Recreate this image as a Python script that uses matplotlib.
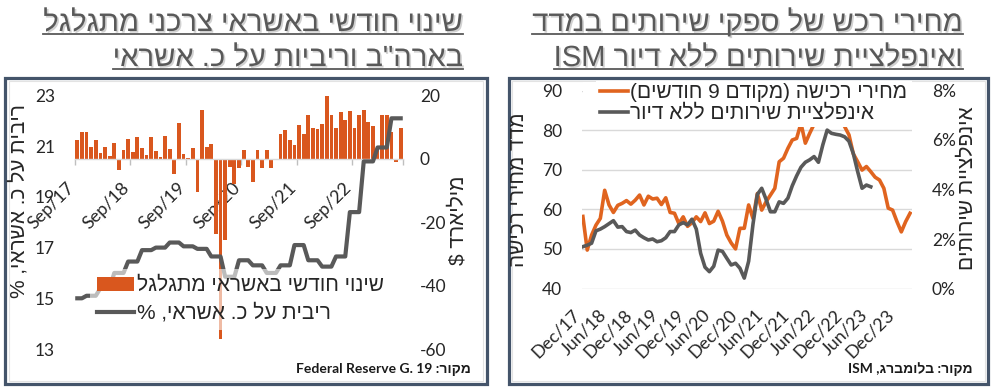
import re
import matplotlib
matplotlib.use('Agg')
import matplotlib.pyplot as plt
from matplotlib.patches import Rectangle, Patch
from matplotlib.lines import Line2D
import matplotlib.patheffects as pe

# ---------------- data: left chart (monthly, Sep 2017 .. Jul 2023) ----------------
left_tick_labels = ['Sep/17', 'Sep/18', 'Sep/19', 'Sep/20', 'Sep/21', 'Sep/22']
left_tick_pos = [0, 12, 24, 36, 48, 60]

revolving_change = [5.8, 8.6, 8.6, 3.9, 5.8, 2.0, 3.9, 1.0, 4.9, -3.5,
                    2.8, 6.3, 2.3, 6.9, 3.4, 1.3, 6.9, 2.6, 0.7, 7.3,
                    3.2, -4.7, 11.4, 1.6, 0.4, 3.4, -10.4, 15.5, 3.9, 4.7,
                    -23.7, -57.0, -25.6, -2.5, -8.0, -3.0, 2.8, -2.6, -7.2, 2.8,
                    -3.0, 2.8, -3.0, -0.5, 7.9, 9.2, 5.8, 4.5, 10.7, 7.7,
                    13.7, 9.7, 9.4, 11.1, 19.8, 13.7, 9.7, 14.7, 12.4, 15.1,
                    9.7, 14.0, 15.5, 11.6, 10.4, 3.0, 13.7, 13.7, 8.4, -1.0,
                    9.7]

card_rate = [15.0, 15.0,
             15.1, 15.1, 15.1, 15.4, 15.4, 15.4, 16.0, 16.0, 16.0,
             16.45, 16.45, 16.45, 16.9, 16.9, 16.9, 17.0, 17.0, 17.0,
             17.2, 17.2, 17.2, 17.05, 17.05, 17.05, 16.95, 16.95, 16.95,
             16.65, 16.65, 16.65, 15.85, 15.85, 15.85, 16.5, 16.5, 16.5,
             16.3, 16.3, 16.3, 16.0, 16.0, 16.0, 16.3, 16.3, 16.3,
             17.1, 17.1, 17.1, 16.5, 16.5, 16.5, 16.25, 16.25, 16.25,
             16.65, 16.65, 16.65, 18.4, 18.4, 18.4, 20.4, 20.4, 20.4,
             20.95, 20.95, 20.95, 22.1, 22.1, 22.1]

# ---------------- data: right chart (monthly, Dec 2017 .. Mar 2024) ----------------
right_tick_labels = ['Dec/17', 'Jun/18', 'Dec/18', 'Jun/19', 'Dec/19', 'Jun/20', 'Dec/20',
                     'Jun/21', 'Dec/21', 'Jun/22', 'Dec/22', 'Jun/23', 'Dec/23']
right_tick_pos = [0, 6, 12, 18, 24, 30, 36, 42, 48, 54, 60, 66, 72]

ism_prices_lead9 = [58.2, 49.7, 53.5, 56.0, 57.7, 64.8, 61.1, 59.2, 61.0, 61.5,
                    62.2, 61.3, 62.3, 63.6, 61.1, 63.3, 62.6, 62.8, 61.2, 62.9,
                    59.2, 59.0, 56.4, 58.1, 55.7, 56.6, 58.1, 56.9, 59.1, 56.4,
                    57.0, 59.5, 57.0, 53.5, 51.5, 50.0, 55.2, 55.2, 61.1, 57.7,
                    64.0, 59.8, 61.9, 63.6, 65.3, 72.0, 72.9, 75.4, 77.5, 77.9,
                    81.7, 76.7, 79.2, 81.5, 83.0, 83.0, 83.3, 83.4, 83.0, 83.4,
                    80.9, 78.8, 74.0, 72.0, 69.9, 70.8, 69.5, 68.1, 67.4, 65.3,
                    60.3, 59.8, 56.9, 54.3, 56.9, 59.0]

services_ex_housing = [1.69, 1.75, 1.83, 2.33, 2.40, 2.50, 2.62, 2.74, 2.48, 2.50,
                       2.30, 2.26, 2.36, 2.16, 2.05, 1.96, 2.00, 1.89, 1.93, 2.05,
                       2.30, 2.30, 2.57, 2.66, 2.57, 2.80, 2.40, 1.42, 0.86, 0.68,
                       0.90, 1.55, 1.50, 1.22, 0.95, 1.02, 0.82, 0.42, 1.10, 2.60,
                       3.80, 4.05, 3.60, 3.10, 3.10, 3.50, 3.44, 3.65, 4.15, 4.55,
                       4.90, 5.10, 5.20, 5.33, 5.10, 5.80, 6.40, 6.27, 6.23, 6.20,
                       6.13, 5.95, 5.45, 4.72, 4.05, 4.18, 4.11]

left_yticks = [13, 15, 17, 19, 21, 23]
bar_yticks = [-60, -40, -20, 0, 20]
right_yticks = [40, 50, 60, 70, 80, 90]
pct_yticks = [0, 2, 4, 6, 8]

# ---------------- texts (logical order) ----------------
title_left = ['שינוי חודשי באשראי צרכני מתגלגל', 'בארה"ב וריביות על כ. אשראי']
title_right = ['מחירי רכש של ספקי שירותים במדד', 'ISM ואינפלציית שירותים ללא דיור']
leg_left = ['שינוי חודשי באשראי מתגלגל', 'ריבית על כ. אשראי, %']
leg_right = ['מחירי רכישה (מקודם 9 חודשים)', 'אינפלציית שירותים ללא דיור']
ylab_left_l = 'ריבית על כ. אשראי, %'
ylab_left_r = 'מיליארד $'
ylab_right_l = 'מדד מחירי רכישה'
ylab_right_r = 'אינפלציית שירותים'
src_left = 'מקור: Federal Reserve G. 19'
src_right = 'מקור: בלומברג, ISM'

# ---------------- helpers ----------------
MIRROR = {'(': ')', ')': '('}
LTR_RE = re.compile(r"[A-Za-z0-9](?:[A-Za-z0-9 ./]*[A-Za-z0-9])?")


def vis(s, base='rtl'):
    """Very small bidi: return visual order for matplotlib (LTR renderer)."""
    parts, pos = [], 0
    for m in LTR_RE.finditer(s):
        if m.start() > pos:
            parts.append(('r', s[pos:m.start()]))
        parts.append(('l', m.group()))
        pos = m.end()
    if pos < len(s):
        parts.append(('r', s[pos:]))

    def flip(t):
        return ''.join(MIRROR.get(c, c) for c in reversed(t))
    if base == 'rtl':
        return ''.join(t if k == 'l' else flip(t) for k, t in reversed(parts))
    out = []
    for k, t in parts:
        if k == 'l':
            out.append(t)
        else:
            lead = len(t) - len(t.lstrip(' '))
            trail = len(t) - len(t.rstrip(' '))
            out.append(' ' * lead + flip(t.strip(' ')) + ' ' * trail)
    return ''.join(out)


plt.rcParams['font.family'] = ['Lato', 'Liberation Sans', 'DejaVu Sans']
HEB = ['Liberation Sans', 'DejaVu Sans']

W, H = 1000, 388
fig = plt.figure(figsize=(10, 3.88), dpi=100)
fig.patch.set_facecolor('white')

ORANGE = '#D9571E'
ORANGE2 = '#E0641F'
GRAY = '#595959'
TXT = '#262626'
TICKFS = 12.5
LEGFS = 15


def ax_px(x0, y0, x1, y1):
    return fig.add_axes([x0 / W, 1 - y1 / H, (x1 - x0) / W, (y1 - y0) / H])


def fx(x):
    return x / W


def fy(y):
    return 1 - y / H


# panel frames
for (x0, y0, x1, y1) in [(5, 78, 487, 384), (509, 78, 988, 384)]:
    fig.add_artist(Rectangle((fx(x0), fy(y1)), (x1 - x0) / W, (y1 - y0) / H,
                             transform=fig.transFigure, fill=False,
                             edgecolor='#44546A', linewidth=2.3, zorder=5))
for (x0, y0, x1, y1) in [(9, 81, 483, 381), (512, 81, 985, 381)]:
    fig.add_artist(Rectangle((fx(x0), fy(y1)), (x1 - x0) / W, (y1 - y0) / H,
                             transform=fig.transFigure, fill=False,
                             edgecolor='#E3E3E3', linewidth=0.8, zorder=-1))

# ================= LEFT CHART =================
ax_bar = ax_px(75, 95.5, 403, 349)
n_left = len(revolving_change)
xs_left = list(range(n_left))
ax_bar.bar(xs_left, revolving_change, width=0.82, color=ORANGE, zorder=2)
ax_bar.set_xlim(-0.5, n_left - 0.5)
ax_bar.set_ylim(-60, 20)
ax_bar.patch.set_alpha(0)

ax_rate = ax_bar.twinx()
ax_rate.plot(xs_left, card_rate, color=GRAY, lw=3.0, solid_joinstyle='round', zorder=3)
ax_rate.set_ylim(13, 23)
ax_rate.yaxis.tick_left()
ax_bar.yaxis.tick_right()

ax_rate.set_yticks(left_yticks)
ax_rate.set_yticklabels([str(v) for v in left_yticks], fontsize=TICKFS, color=TXT)
ax_bar.set_yticks(bar_yticks)
ax_bar.set_yticklabels([str(v) for v in bar_yticks], fontsize=TICKFS, color=TXT)
ax_rate.tick_params(axis='y', length=0, pad=14.4)
ax_bar.tick_params(axis='y', length=0, pad=12.2)

for a in (ax_bar, ax_rate):
    for s in a.spines.values():
        s.set_visible(False)
ax_bar.spines['bottom'].set_visible(True)
ax_bar.spines['bottom'].set_position(('data', 0))
ax_bar.spines['bottom'].set_color('#D9D9D9')
ax_bar.spines['bottom'].set_linewidth(1.0)
ax_bar.set_xticks(left_tick_pos)
ax_bar.set_xticklabels(left_tick_labels, rotation=45, ha='right', va='top',
                       fontsize=13, color=TXT)
ax_bar.set_xticks([p - 0.5 for p in left_tick_pos] + [n_left - 0.5], minor=True)
ax_bar.tick_params(axis='x', which='major', length=0, pad=15)
ax_bar.tick_params(axis='x', which='minor', length=4, width=1, color='#BFBFBF')

fig.text(fx(19), fy(201), vis(ylab_left_l), family=HEB, fontsize=LEGFS, color=TXT,
         rotation=90, ha='center', va='center', zorder=6)
fig.text(fx(458), fy(220), vis(ylab_left_r), family=HEB, fontsize=LEGFS, color=TXT,
         rotation=90, ha='center', va='center', zorder=6)

h1 = Patch(facecolor=ORANGE, edgecolor='none')
h2 = Line2D([0], [0], color=GRAY, lw=3.0)
leg = ax_rate.legend([h1, h2], [vis(t) for t in leg_left], loc='upper left',
                     bbox_to_anchor=(fx(90), fy(269)), bbox_transform=fig.transFigure,
                     prop={'family': HEB, 'size': LEGFS}, frameon=True, fancybox=False,
                     framealpha=0.6, facecolor='white', edgecolor='none',
                     handlelength=1.75, handleheight=0.7, handletextpad=0.15,
                     labelspacing=0.38, borderpad=0.35, borderaxespad=0)
for t in leg.get_texts():
    t.set_color(TXT)

# ================= RIGHT CHART =================
ax_r = ax_px(582, 90.5, 912, 288.5)
ax_r.patch.set_alpha(0)
n_right = len(ism_prices_lead9)
xs_right = list(range(n_right))
ax_r.set_xlim(-0.2, 75.45)
ax_r.set_ylim(40, 90)
ax_r.set_yticks(right_yticks)
ax_r.set_yticklabels([str(v) for v in right_yticks], fontsize=TICKFS, color=TXT)
ax_r.grid(axis='y', color='#D9D9D9', lw=1.0)
ax_r.set_axisbelow(True)
ax_r.plot(xs_right, ism_prices_lead9, color=ORANGE2, lw=2.6, solid_joinstyle='round', zorder=3)

ax_r2 = ax_r.twinx()
ax_r2.plot(list(range(len(services_ex_housing))), services_ex_housing, color=GRAY, lw=2.6,
           solid_joinstyle='round', zorder=3)
ax_r2.set_ylim(0, 8)
ax_r2.set_yticks(pct_yticks)
ax_r2.set_yticklabels([f'{v}%' for v in pct_yticks], fontsize=TICKFS, color=TXT)
for a in (ax_r, ax_r2):
    for s in a.spines.values():
        s.set_visible(False)
ax_r.tick_params(axis='y', length=0, pad=14.4)
ax_r2.tick_params(axis='y', length=0, pad=14.4)
ax_r.set_xticks(right_tick_pos)
ax_r.set_xticklabels(right_tick_labels, rotation=45, ha='right', va='top',
                     fontsize=13, color=TXT)
ax_r.tick_params(axis='x', length=0, pad=13)

fig.text(fx(518), fy(190), vis(ylab_right_l), family=HEB, fontsize=LEGFS, color=TXT,
         rotation=90, ha='center', va='center', zorder=6)
fig.text(fx(967), fy(188), vis(ylab_right_r), family=HEB, fontsize=LEGFS, color=TXT,
         rotation=90, ha='center', va='center', zorder=6)

# white strip under the legend (inside ax_r2, below its lines and legend)
ax_r2.add_patch(Rectangle((fx(583), fy(100)), (890 - 583) / W, (100 - 82) / H,
                          transform=fig.transFigure, facecolor='white', edgecolor='none',
                          zorder=1, clip_on=False))

g1 = Line2D([0], [0], color=ORANGE2, lw=2.6)
g2 = Line2D([0], [0], color=GRAY, lw=2.6)
leg2 = ax_r2.legend([g1, g2], [vis(t) for t in leg_right], loc='upper left',
                    bbox_to_anchor=(fx(596), fy(79)), bbox_transform=fig.transFigure,
                    prop={'family': HEB, 'size': LEGFS}, frameon=True, fancybox=False,
                    framealpha=1.0, facecolor='white', edgecolor='none',
                    handlelength=1.35, handletextpad=0.1, labelspacing=0.08,
                    borderpad=0.2, borderaxespad=0)
for t in leg2.get_texts():
    t.set_color(TXT)

# ================= titles & sources =================
TCOL = '#595959'
shadow = [pe.withSimplePatchShadow(offset=(1.2, -1.2), shadow_rgbFace='#9a9a9a', alpha=0.45)]
title_items = []
for x_right, lines, bases in [(463, title_left, ['rtl', 'rtl']),
                              (963, title_right, ['rtl', 'ltr'])]:
    for line, base, yb in zip(lines, bases, [31, 66]):
        t = fig.text(fx(x_right), fy(yb), vis(line, base), ha='right', va='baseline',
                     fontsize=21, color=TCOL, family=HEB, path_effects=shadow)
        title_items.append((t, yb))

fig.text(fx(471), fy(370), vis(src_left), ha='right', va='center', fontsize=10,
         fontweight='bold', color='#1a1a1a')
fig.text(fx(973), fy(369), vis(src_right), ha='right', va='center', fontsize=10,
         fontweight='bold', color='#1a1a1a')

fig.canvas.draw()
r = fig.canvas.get_renderer()
for t, yb in title_items:
    bb = t.get_window_extent(r)
    ln = Line2D([bb.x0 / W, bb.x1 / W], [fy(yb + 2.5), fy(yb + 2.5)], transform=fig.transFigure,
                color=TCOL, lw=1.3, path_effects=shadow)
    fig.add_artist(ln)

fig.savefig('out.png', dpi=100, facecolor='white')
